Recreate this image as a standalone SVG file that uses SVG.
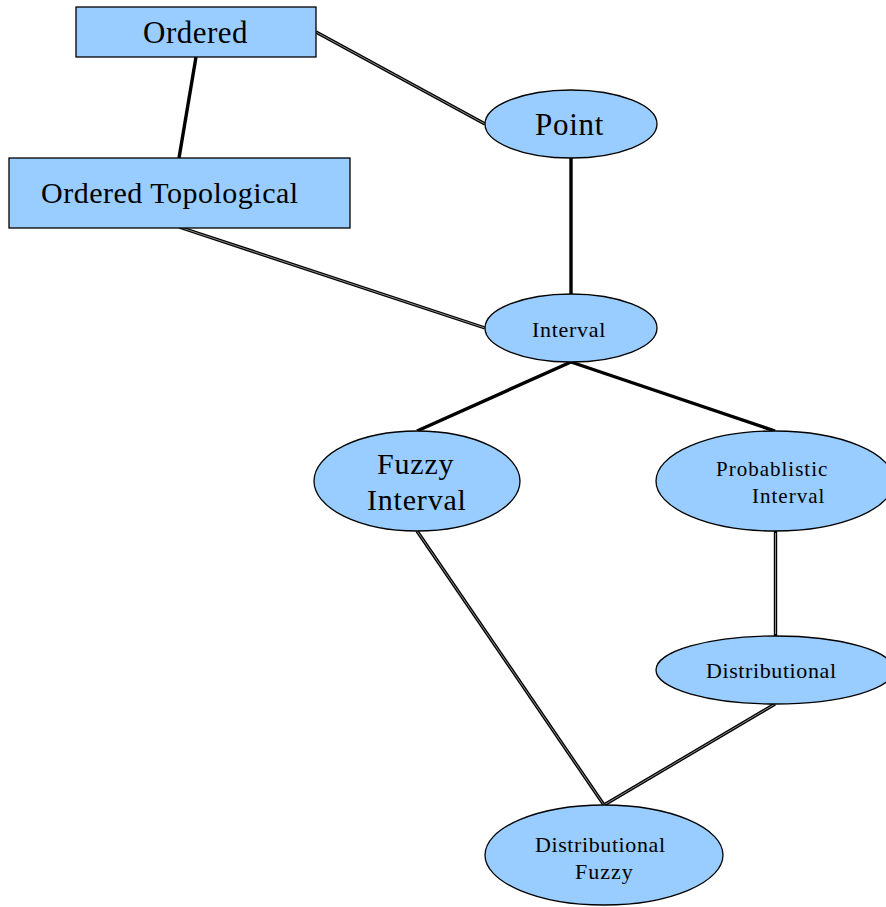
<svg xmlns="http://www.w3.org/2000/svg" width="886" height="907" viewBox="0 0 886 907">
  <style>
    .box { fill: #99ccff; stroke: #000; stroke-width: 1.3; }
    .lbl { font-family: "Liberation Serif", "Times New Roman", serif; fill: #000; }
    .edge { stroke: #000; stroke-width: 3.4; fill: none; stroke-linecap: butt; }
    .core { stroke: #b0b0b0; stroke-width: 0.8; fill: none; }
  </style>
  <rect width="886" height="907" fill="#fff"/>

  <g id="connectors">
    <!-- outer dark stroke -->
    <line class="edge" x1="316" y1="32" x2="485" y2="124"/>
    <line class="edge" x1="196" y1="57" x2="179" y2="158"/>
    <line class="edge" x1="179" y1="227" x2="485" y2="328"/>
    <line class="edge" x1="571" y1="158" x2="571" y2="294"/>
    <line class="edge" x1="571" y1="362" x2="417" y2="431"/>
    <line class="edge" x1="571" y1="362" x2="775" y2="431"/>
    <line class="edge" x1="417" y1="531" x2="604" y2="805"/>
    <line class="edge" x1="775.5" y1="531" x2="775.5" y2="636"/>
    <line class="edge" x1="775" y1="704" x2="604" y2="805"/>
    <!-- light centre giving the double-line look -->
    <line class="core" x1="316" y1="32" x2="485" y2="124"/>
    <line class="core" x1="179" y1="227" x2="485" y2="328"/>
    <line class="core" x1="417" y1="531" x2="604" y2="805"/>
    <line class="core" x1="775.5" y1="533" x2="775.5" y2="634" stroke="#e0e0e0" stroke-width="1.2"/>
    <line class="core" x1="775" y1="704" x2="604" y2="805"/>
  </g>

  <g id="ordered">
    <rect class="box" x="76" y="7" width="240" height="50"/>
    <text class="lbl" x="143" y="43" font-size="31" letter-spacing="0.5">Ordered</text>
  </g>

  <g id="ordered-topological">
    <rect class="box" x="9" y="158" width="341" height="70"/>
    <text class="lbl" x="41" y="203" font-size="30" letter-spacing="0.5">Ordered Topological</text>
  </g>

  <g id="point">
    <ellipse class="box" cx="571" cy="124" rx="86" ry="34"/>
    <text class="lbl" x="535" y="135" font-size="31" letter-spacing="0.7">Point</text>
  </g>

  <g id="interval">
    <ellipse class="box" cx="571" cy="328" rx="86" ry="34"/>
    <text class="lbl" x="532" y="337" font-size="22" letter-spacing="0.7">Interval</text>
  </g>

  <g id="fuzzy-interval">
    <ellipse class="box" cx="417" cy="481" rx="103" ry="50"/>
    <text class="lbl" x="377" y="474" font-size="30" letter-spacing="0.8">Fuzzy</text>
    <text class="lbl" x="367" y="510" font-size="30" letter-spacing="0.8">Interval</text>
  </g>

  <g id="probablistic-interval">
    <ellipse class="box" cx="775" cy="481" rx="119" ry="50"/>
    <text class="lbl" x="716" y="476" font-size="21" letter-spacing="1">Probablistic</text>
    <text class="lbl" x="752" y="503" font-size="21" letter-spacing="1">Interval</text>
  </g>

  <g id="distributional">
    <ellipse class="box" cx="775" cy="670" rx="119" ry="34"/>
    <text class="lbl" x="706" y="678" font-size="22" letter-spacing="0.6">Distributional</text>
  </g>

  <g id="distributional-fuzzy">
    <ellipse class="box" cx="604" cy="855" rx="119" ry="50"/>
    <text class="lbl" x="535" y="852" font-size="22" letter-spacing="0.6">Distributional</text>
    <text class="lbl" x="575" y="879" font-size="22" letter-spacing="1">Fuzzy</text>
  </g>
</svg>
